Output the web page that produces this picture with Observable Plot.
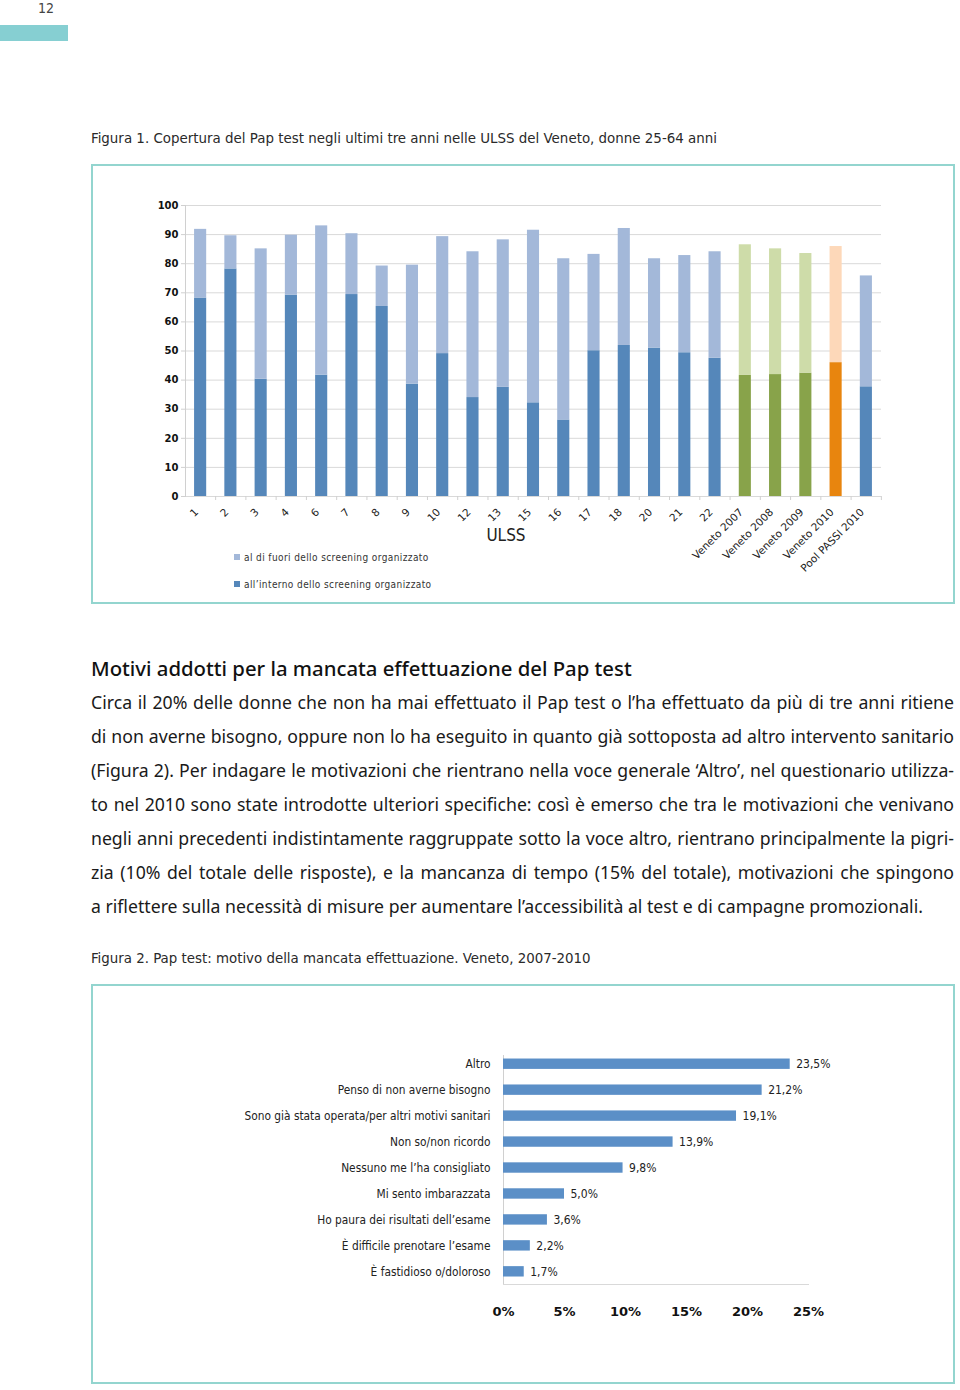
<!DOCTYPE html>
<html><head><meta charset="utf-8">
<script src="https://cdn.jsdelivr.net/npm/d3@7"></script>
<script src="https://cdn.jsdelivr.net/npm/@observablehq/plot@0.6"></script>
<style>
body{margin:0;background:#fff;}
#page{position:relative;width:960px;height:1390px;overflow:hidden;font-family:"Noto Sans",sans-serif;color:#1a1a1a;}
.abs{position:absolute;white-space:nowrap;}
.narrow{font-family:"Liberation Sans Narrow","Arial Narrow","DejaVu Sans Condensed",sans-serif;}
.box{position:absolute;border:2px solid #93d5cf;box-sizing:border-box;}
.line{position:absolute;left:91px;width:863px;height:34px;line-height:34px;text-align:justify;text-align-last:justify;white-space:nowrap;}
.leg{position:absolute;left:234px;font-size:10px;letter-spacing:0.4px;color:#333;white-space:nowrap;line-height:12px;font-family:"DejaVu Sans Condensed","Liberation Sans Narrow",sans-serif;}
.leg i{display:inline-block;width:6px;height:6px;margin-right:4px;vertical-align:1px;}
</style></head>
<body><div id="page">
<div class="abs narrow" style="left:38px;top:0;font-size:14px;line-height:16px;color:#444;">12</div>
<div class="abs" style="left:0;top:25px;width:68px;height:16px;background:#86cfd2;"></div>
<div id="t1" class="abs narrow" style="left:91px;top:128px;font-size:16px;line-height:20px;color:#2a2a2a;">Figura 1. Copertura del Pap test negli ultimi tre anni nelle ULSS del Veneto, donne 25-64 anni</div>
<div class="box" style="left:91px;top:164px;width:864px;height:440px;"></div>
<div id="c1" class="abs" style="left:150px;top:195px;"></div>
<div class="abs narrow" style="left:466px;top:525px;width:80px;text-align:center;font-size:17px;line-height:20px;color:#222;">ULSS</div>
<div id="leg1" class="leg" style="top:552px;"></div>
<div id="leg2" class="leg" style="top:579px;"></div>
<div id="h2" class="abs" style="left:91px;top:653px;font-size:21px;line-height:30px;font-weight:500;color:#111;">Motivi addotti per la mancata effettuazione del Pap test</div>
<div id="body"></div>
<div id="t2" class="abs narrow" style="left:91px;top:948px;font-size:16px;line-height:20px;color:#2a2a2a;">Figura 2. Pap test: motivo della mancata effettuazione. Veneto, 2007-2010</div>
<div class="box" style="left:91px;top:984px;width:864px;height:400px;"></div>
<div id="c2" class="abs" style="left:230px;top:1030px;"></div>
</div>
<script>
// ---------- Figura 1 data ----------
const ulss = ["1","2","3","4","6","7","8","9","10","12","13","15","16","17","18","20","21","22","Veneto 2007","Veneto 2008","Veneto 2009","Veneto 2010","Pool PASSI 2010"];
const totale = [91.8,89.6,85.1,89.8,93.0,90.3,79.2,79.5,89.3,84.1,88.2,91.5,81.7,83.2,92.1,81.7,82.8,84.1,86.5,85.1,83.5,85.9,75.8];
const interno = [68.2,78.2,40.3,69.2,41.7,69.4,65.3,38.6,49.1,34.0,37.5,32.2,26.3,50.1,51.9,51.0,49.4,47.5,41.6,41.9,42.4,46.0,37.7];
const gruppo = ["ulss","ulss","ulss","ulss","ulss","ulss","ulss","ulss","ulss","ulss","ulss","ulss","ulss","ulss","ulss","ulss","ulss","ulss","veneto","veneto","veneto","veneto2010","ulss"];
const serie = ["all’interno dello screening organizzato","al di fuori dello screening organizzato"];
const yTicks = [0,10,20,30,40,50,60,70,80,90,100];

// ---------- Figura 2 data ----------
const motivi = ["Altro","Penso di non averne bisogno","Sono già stata operata/per altri motivi sanitari","Non so/non ricordo","Nessuno me l’ha consigliato","Mi sento imbarazzata","Ho paura dei risultati dell’esame","È difficile prenotare l’esame","È fastidioso o/doloroso"];
const percentuali = [23.5,21.2,19.1,13.9,9.8,5.0,3.6,2.2,1.7];
const xTicks = [0,5,10,15,20,25];

// ---------- text ----------
const righe = [
"Circa il 20% delle donne che non ha mai effettuato il Pap test o l’ha effettuato da più di tre anni ritiene",
"di non averne bisogno, oppure non lo ha eseguito in quanto già sottoposta ad altro intervento sanitario",
"(Figura 2). Per indagare le motivazioni che rientrano nella voce generale ‘Altro’, nel questionario utilizza-",
"to nel 2010 sono state introdotte ulteriori specifiche: così è emerso che tra le motivazioni che venivano",
"negli anni precedenti indistintamente raggruppate sotto la voce altro, rientrano principalmente la pigri-",
"zia (10% del totale delle risposte), e la mancanza di tempo (15% del totale), motivazioni che spingono",
"a riflettere sulla necessità di misure per aumentare l’accessibilità al test e di campagne promozionali."
];

const palette = {ulss:["#5587ba","#a3b8d9"], veneto:["#88a34a","#cedca9"], veneto2010:["#e8850e","#fdd8b9"]};
const NARROW = '"Liberation Sans Narrow","Arial Narrow","DejaVu Sans Condensed",sans-serif';

const page = document.getElementById("page");
function fitWidth(id, target){
  const el = document.getElementById(id);
  const w = el.getBoundingClientRect().width;
  const fs = parseFloat(getComputedStyle(el).fontSize);
  el.style.fontSize = (fs*target/w) + "px";
}
fitWidth("t1", 627);
fitWidth("t2", 500);
fitWidth("h2", 541);

// body text
const meas = document.createElement("span");
meas.style.cssText = 'position:absolute;visibility:hidden;white-space:nowrap;font-family:"Noto Sans",sans-serif;font-size:17px;';
page.appendChild(meas);
let k = Infinity;
righe.forEach((t,i)=>{ meas.textContent = t; const w = meas.getBoundingClientRect().width; k = Math.min(k, (i===righe.length-1 ? 847 : 858)/w); });
const bodySize = 17*k;
righe.forEach((t,i)=>{
  const d = document.createElement("div");
  d.className = "line";
  d.style.top = (685 + 34*i) + "px";
  d.style.fontSize = bodySize + "px";
  if (i === righe.length-1) d.style.textAlignLast = "left";
  d.textContent = t;
  page.appendChild(d);
});

// legend
document.getElementById("leg1").innerHTML = `<i style="background:${palette.ulss[1]}"></i>` + serie[1];
document.getElementById("leg2").innerHTML = `<i style="background:${palette.ulss[0]}"></i>` + serie[0];

// chart 1
const rows = [];
ulss.forEach((c,i)=>{
  const p = palette[gruppo[i]];
  rows.push({cat:c, serie:serie[0], value:interno[i], fill:p[0]});
  rows.push({cat:c, serie:serie[1], value:+(totale[i]-interno[i]).toFixed(1), fill:p[1]});
});
const chart1 = Plot.plot({
  width:740, height:390, marginLeft:35, marginRight:9, marginTop:10, marginBottom:89,
  x:{domain:ulss, paddingInner:0.6, paddingOuter:0.3, round:false, label:null},
  y:{domain:[0,100], label:null},
  color:{type:"identity"},
  style:{fontFamily:"DejaVu Sans, sans-serif", background:"transparent", overflow:"visible"},
  marks:[
    Plot.gridY(yTicks, {stroke:"#d9d9d9", strokeOpacity:1}),
    Plot.frame({anchor:"left", stroke:"#d0d0d0"}),
    Plot.axisY(yTicks, {tickSize:4, tickPadding:3, stroke:"#d0d0d0", fill:"#111", fontSize:10, fontWeight:"bold", label:null}),
    Plot.axisX({tickSize:4, tickFormat:()=>"", dx:15, stroke:"#d0d0d0", label:null}),
    Plot.axisX({tickRotate:-45, tickSize:0, tickPadding:14, dx:-4, fontSize:10.5, fill:"#222", label:null}),
    Plot.barY(rows, Plot.stackY({x:"cat", y:"value", fill:"fill"}))
  ]
});
document.getElementById("c1").appendChild(chart1);

// chart 2
const dati = motivi.map((m,i)=>({m, v:percentuali[i]}));
const chart2 = Plot.plot({
  width:620, height:300, marginLeft:273, marginRight:42, marginTop:25, marginBottom:46,
  x:{domain:[0,25], label:null},
  y:{domain:motivi, paddingInner:0.6, paddingOuter:0.212, align:0.32, round:false, label:null},
  style:{fontFamily:NARROW, background:"transparent", overflow:"visible"},
  marks:[
    Plot.frame({anchor:"bottom", stroke:"#d9d9d9"}),
    Plot.ruleX([0], {stroke:"#d0d0d0"}),
    Plot.barX(dati, {x:"v", y:"m", fill:"#5b8fc7"}),
    Plot.text(dati, {x:"v", y:"m", text:d=>d.v.toFixed(1).replace(".", ",")+"%", dx:6, textAnchor:"start", fontSize:12, fill:"#222"}),
    Plot.axisY({tickSize:0, tickPadding:13, fontSize:11.8, fill:"#222", label:null}),
    Plot.axisX(xTicks, {tickSize:0, tickPadding:22, tickFormat:d=>d+"%", fontSize:13, fontWeight:"bold", fill:"#111", fontFamily:"DejaVu Sans, sans-serif", label:null})
  ]
});
document.getElementById("c2").appendChild(chart2);
</script>
</body></html>
